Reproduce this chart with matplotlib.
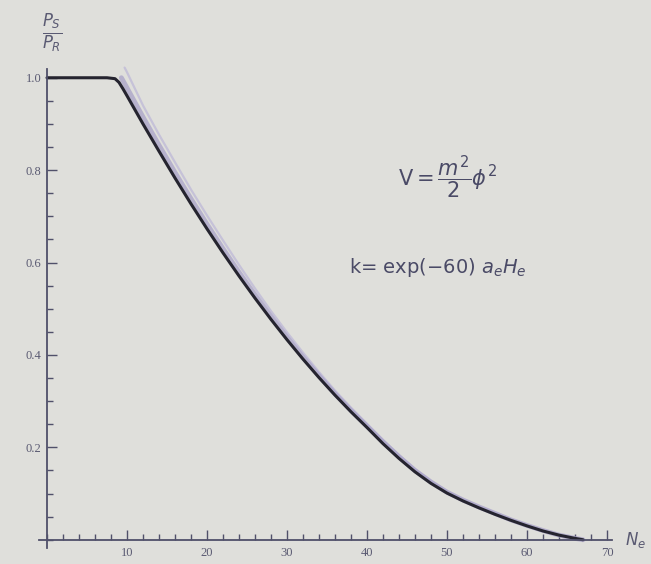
import matplotlib.pyplot as plt
from matplotlib.ticker import MultipleLocator

# e-folds N_e and power spectrum ratio P_S / P_R
n_main = [0, 4, 7.5, 8.5, 9, 9.5, 10, 12, 14, 16, 18, 20, 22, 24, 26, 28, 30,
          32, 34, 36, 38, 40, 42, 44, 46, 48, 50, 52, 54, 56, 58, 60, 62, 64,
          66, 67]
ratio_main = [1.0, 1.0, 1.0, 0.998, 0.99, 0.976, 0.961, 0.900, 0.841, 0.783,
              0.727, 0.673, 0.621, 0.571, 0.523, 0.477, 0.433, 0.391, 0.351,
              0.313, 0.277, 0.243, 0.208, 0.176, 0.147, 0.122, 0.101, 0.084,
              0.069, 0.055, 0.042, 0.030, 0.019, 0.010, 0.003, 0.0]

# lighter neighbouring curves
n_band = [9.3, 10, 12, 14, 16, 18, 20, 22, 24, 26, 28, 30, 32, 34, 36, 38,
          40, 42, 44, 46, 48, 50, 52, 54, 56, 58, 60, 62, 64, 66, 67]
ratio_band = [1.0, 0.978, 0.915, 0.854, 0.795, 0.738, 0.683, 0.630, 0.579,
              0.530, 0.483, 0.438, 0.395, 0.355, 0.316, 0.280, 0.246, 0.212,
              0.180, 0.150, 0.125, 0.103, 0.086, 0.071, 0.057, 0.043, 0.031,
              0.020, 0.010, 0.003, 0.0]

n_light = [9.7, 10, 12, 14, 16, 18, 20, 22, 24, 26, 28, 30, 32, 34, 36, 38,
           40, 42, 44, 46, 48, 50, 52, 54, 56, 58, 60, 62, 64, 66]
ratio_light = [1.022, 1.012, 0.940, 0.877, 0.817, 0.758, 0.702, 0.648,
               0.595, 0.544, 0.495, 0.449, 0.405, 0.363, 0.323, 0.286, 0.251,
               0.216, 0.183, 0.153, 0.127, 0.105, 0.087, 0.072, 0.058, 0.044,
               0.032, 0.020, 0.010, 0.003]

x_ticks = [10, 20, 30, 40, 50, 60, 70]
y_ticks = [0.2, 0.4, 0.6, 0.8, 1.0]

bg = "#dfdfdb"
axis_col = "#50506a"
text_col = "#5a5a72"

fig = plt.figure(figsize=(6.51, 5.64), dpi=100, facecolor=bg)
ax = fig.add_axes([0.0599, 0.0266, 0.8848, 0.8724])
ax.set_facecolor(bg)

ax.plot(n_light, ratio_light, color="#c6c2d8", lw=1.6, solid_capstyle="round")
ax.plot(n_band, ratio_band, color="#a9a2c8", lw=3.5, alpha=0.75,
        solid_capstyle="round")
ax.plot(n_main, ratio_main, color="#25242f", lw=2.2, solid_capstyle="round")

ax.set_xlim(-1, 71)
ax.set_ylim(-0.02, 1.045)

for side in ["top", "right"]:
    ax.spines[side].set_visible(False)
ax.spines["left"].set_position(("data", 0))
ax.spines["bottom"].set_position(("data", 0))
ax.spines["left"].set_bounds(-0.018, 1.02)
ax.spines["bottom"].set_bounds(-1, 70.6)
for side in ["left", "bottom"]:
    ax.spines[side].set_color(axis_col)
    ax.spines[side].set_linewidth(1.3)

ax.set_xticks(x_ticks)
ax.set_yticks(y_ticks)
ax.set_yticklabels([f"{v:.1f}" for v in y_ticks])
ax.xaxis.set_minor_locator(MultipleLocator(2))
ax.yaxis.set_minor_locator(MultipleLocator(0.05))
ax.tick_params(which="both", direction="in", colors=axis_col,
               labelcolor=text_col, labelsize=9, width=1)
ax.tick_params(which="major", length=7)
ax.tick_params(which="minor", length=4)
ax.tick_params(axis="x", pad=5)
ax.tick_params(axis="y", pad=4)
for lab in ax.get_xticklabels() + ax.get_yticklabels():
    lab.set_family("Liberation Serif")

# axis labels like the Mathematica slide
ax.text(0.6, 1.097, r"$\frac{P_S}{P_R}$", fontsize=17, color=text_col,
        ha="center", va="center")
ax.text(72.3, 0.0, r"$N_e$", fontsize=12, color=text_col,
        ha="left", va="center", clip_on=False)

ax.text(50.0, 0.785, r"V$=\dfrac{m^2}{2}\phi^2$", fontsize=15,
        color="#4a4a66", ha="center", va="center")
ax.text(48.8, 0.589, r"k= exp($-$60) $a_e H_e$", fontsize=14,
        color="#4a4a66", ha="center", va="center")

fig.savefig("out.png", dpi=100, facecolor=bg)
